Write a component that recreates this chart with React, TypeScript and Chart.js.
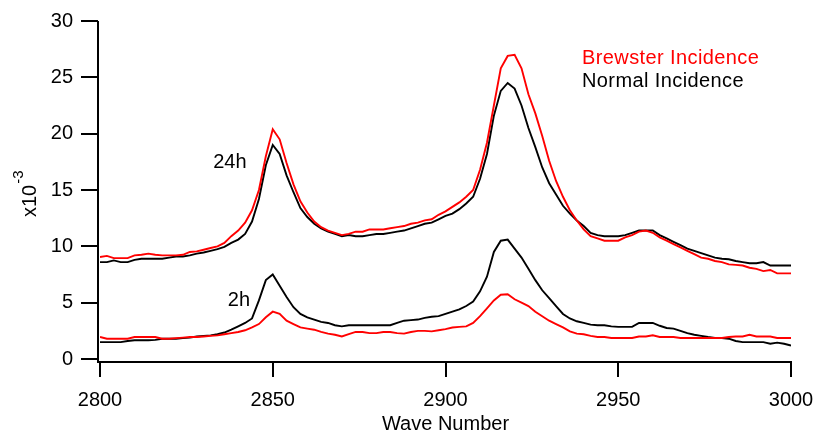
import { useEffect, useRef } from 'react';
import { Chart, registerables } from 'chart.js';

Chart.register(...registerables);

const wavenumbers = [
  2800, 2802, 2804, 2806, 2808, 2810, 2812, 2814, 2816, 2818,
  2820, 2822, 2824, 2826, 2828, 2830, 2832, 2834, 2836, 2838,
  2840, 2842, 2844, 2846, 2848, 2850, 2852, 2854, 2856, 2858,
  2860, 2862, 2864, 2866, 2868, 2870, 2872, 2874, 2876, 2878,
  2880, 2882, 2884, 2886, 2888, 2890, 2892, 2894, 2896, 2898,
  2900, 2902, 2904, 2906, 2908, 2910, 2912, 2914, 2916, 2918,
  2920, 2922, 2924, 2926, 2928, 2930, 2932, 2934, 2936, 2938,
  2940, 2942, 2944, 2946, 2948, 2950, 2952, 2954, 2956, 2958,
  2960, 2962, 2964, 2966, 2968, 2970, 2972, 2974, 2976, 2978,
  2980, 2982, 2984, 2986, 2988, 2990, 2992, 2994, 2996, 2998,
  3000,
];

const brewster24h = [
  9.05, 9.15, 8.95, 8.95, 8.95, 9.2, 9.25, 9.35, 9.25, 9.2,
  9.2, 9.2, 9.25, 9.5, 9.55, 9.7, 9.85, 10.0, 10.3, 10.9,
  11.4, 12.1, 13.2, 15.0, 18.0, 20.4, 19.5, 17.4, 15.5, 14.0,
  13.0, 12.2, 11.7, 11.4, 11.2, 11.0, 11.1, 11.3, 11.3, 11.5,
  11.5, 11.5, 11.6, 11.7, 11.8, 12.0, 12.1, 12.3, 12.4, 12.8,
  13.1, 13.5, 13.9, 14.4, 15.0, 16.8, 19.2, 22.5, 25.8, 26.9,
  27.0, 25.8, 23.5, 21.8, 19.8, 17.6, 15.8, 14.4, 13.2, 12.3,
  11.5, 10.9, 10.7, 10.5, 10.5, 10.5, 10.8, 11.0, 11.3, 11.4,
  11.2, 10.8, 10.5, 10.2, 9.9, 9.6, 9.3, 9.0, 8.9, 8.7,
  8.6, 8.4, 8.35, 8.3, 8.1, 8.0, 7.8, 7.9, 7.6, 7.6,
  7.6,
];

const normal24h = [
  8.6, 8.6, 8.75, 8.6, 8.6, 8.8, 8.9, 8.9, 8.9, 8.9,
  9.0, 9.1, 9.1, 9.2, 9.35, 9.45, 9.6, 9.75, 9.95, 10.3,
  10.6, 11.1, 12.2, 14.2, 17.2, 19.0, 18.2, 16.3, 14.8, 13.4,
  12.6, 12.0, 11.6, 11.3, 11.1, 10.9, 11.0, 10.9, 10.9, 11.0,
  11.1, 11.1, 11.2, 11.3, 11.4, 11.6, 11.8, 12.0, 12.1, 12.4,
  12.7, 12.9, 13.3, 13.8, 14.4, 16.0, 18.2, 21.6, 23.8, 24.5,
  24.0, 22.5, 20.5, 18.8, 17.0, 15.6, 14.6, 13.6, 12.9, 12.3,
  11.8, 11.2, 11.0, 10.9, 10.9, 10.9, 11.0, 11.2, 11.4, 11.4,
  11.4, 11.0, 10.7, 10.4, 10.1, 9.8, 9.6, 9.4, 9.2, 9.0,
  8.9, 8.85, 8.7, 8.6, 8.5, 8.5, 8.6, 8.3, 8.3, 8.3,
  8.3,
];

const brewster2h = [
  1.95, 1.8, 1.8, 1.8, 1.8, 1.95, 1.95, 1.95, 1.95, 1.8,
  1.8, 1.85, 1.9, 1.95, 1.95, 2.0, 2.05, 2.1, 2.2, 2.3,
  2.4, 2.55, 2.8, 3.1, 3.7, 4.2, 4.0, 3.4, 3.1, 2.8,
  2.7, 2.6, 2.4, 2.25, 2.15, 2.0, 2.2, 2.4, 2.4, 2.3,
  2.3, 2.4, 2.4, 2.3, 2.25, 2.4, 2.5, 2.5, 2.45, 2.55,
  2.65, 2.8, 2.85, 2.9, 3.2, 3.8, 4.5, 5.2, 5.7, 5.75,
  5.3, 5.0, 4.7, 4.2, 3.8, 3.4, 3.1, 2.8, 2.45, 2.25,
  2.2, 2.05, 1.95, 1.95, 1.87, 1.87, 1.87, 1.87, 2.0, 2.0,
  2.1, 1.95, 1.95, 1.95, 1.87, 1.87, 1.87, 1.87, 1.87, 1.87,
  1.87, 1.95, 2.0, 2.0, 2.15, 2.0, 2.0, 2.0, 1.87, 1.87,
  1.87,
];

const normal2h = [
  1.5, 1.5, 1.5, 1.5, 1.6, 1.66, 1.66, 1.66, 1.7, 1.8,
  1.8, 1.8, 1.85, 1.9, 2.0, 2.05, 2.1, 2.2, 2.35, 2.6,
  2.9, 3.2, 3.6, 5.2, 7.0, 7.5, 6.5, 5.5, 4.6, 4.0,
  3.7, 3.5, 3.3, 3.2, 3.0, 2.9, 3.0, 3.0, 3.0, 3.0,
  3.0, 3.0, 3.0, 3.2, 3.4, 3.45, 3.5, 3.65, 3.75, 3.8,
  4.0, 4.2, 4.4, 4.7, 5.1, 6.0, 7.3, 9.5, 10.5, 10.6,
  9.8, 9.0, 8.0, 7.0, 6.1, 5.4, 4.7, 4.0, 3.6, 3.35,
  3.2, 3.05, 3.0, 3.0, 2.9, 2.85, 2.85, 2.85, 3.2, 3.2,
  3.2, 2.95, 2.75, 2.7, 2.5, 2.3, 2.15, 2.05, 1.95, 1.87,
  1.87, 1.8, 1.6, 1.5, 1.5, 1.5, 1.5, 1.35, 1.45, 1.35,
  1.2,
];

const xTicks = [2800, 2850, 2900, 2950, 3000];
const yTicks = [0, 5, 10, 15, 20, 25, 30];

const seriesLabels = ['Brewster Incidence', 'Normal Incidence'];
const seriesColors = ['#ff0000', '#000000'];

const annotationTexts = ['24h', '2h'];
const annotationX = [2837.6, 2840.2];
const annotationY = [17.4, 5.2];

const FONT = '"Liberation Sans", Arial, Helvetica, sans-serif';

const toPoints = (ys: number[]) => ys.map((v, i) => ({ x: wavenumbers[i], y: v }));

const decorPlugin = {
  id: 'decor',
  afterDraw(chart: any) {
    const { ctx, chartArea, scales } = chart;
    const xs = scales.x;
    const ys = scales.y;
    ctx.save();
    ctx.strokeStyle = '#000';
    ctx.lineWidth = 2;
    const axX = chartArea.left - 2;
    const axY = chartArea.bottom + 3;
    ctx.beginPath();
    ctx.moveTo(axX, ys.getPixelForValue(yTicks[yTicks.length - 1]));
    ctx.lineTo(axX, axY + 1);
    ctx.moveTo(axX - 1, axY);
    ctx.lineTo(xs.getPixelForValue(xTicks[xTicks.length - 1]) + 1, axY);
    yTicks.forEach((t) => {
      const py = Math.round(ys.getPixelForValue(t));
      ctx.moveTo(axX - 17, py);
      ctx.lineTo(axX, py);
    });
    xTicks.forEach((t) => {
      const px = Math.round(xs.getPixelForValue(t));
      ctx.moveTo(px, axY);
      ctx.lineTo(px, axY + 15);
    });
    ctx.stroke();

    // Y axis title with superscript
    ctx.fillStyle = '#000';
    ctx.save();
    ctx.translate(36, 217);
    ctx.rotate(-Math.PI / 2);
    ctx.font = `20px ${FONT}`;
    ctx.textAlign = 'left';
    ctx.textBaseline = 'alphabetic';
    ctx.fillText('x10', 0, 0);
    const w = ctx.measureText('x10').width;
    ctx.font = `15px ${FONT}`;
    ctx.fillText('-3', w + 1, -13);
    ctx.restore();

    // Annotations
    ctx.font = `20px ${FONT}`;
    ctx.textAlign = 'center';
    ctx.textBaseline = 'middle';
    annotationTexts.forEach((t, i) => {
      ctx.fillText(t, xs.getPixelForValue(annotationX[i]), ys.getPixelForValue(annotationY[i]));
    });

    // Legend
    ctx.textAlign = 'left';
    try { (ctx as any).letterSpacing = '0.4px'; } catch (e) { /* ignore */ }
    seriesLabels.forEach((t, i) => {
      ctx.fillStyle = seriesColors[i];
      ctx.fillText(t, 582, 58 + i * 23);
    });
    try { (ctx as any).letterSpacing = '0px'; } catch (e) { /* ignore */ }
    ctx.restore();
  },
};

export default function App() {
  const ref = useRef<HTMLCanvasElement | null>(null);

  useEffect(() => {
    if (!ref.current) return;
    const lineStyle = { pointRadius: 0, borderWidth: 1.9, tension: 0, fill: false };
    const chart = new Chart(ref.current, {
      type: 'line',
      data: {
        datasets: [
          { label: '24h ' + seriesLabels[0], data: toPoints(brewster24h), borderColor: seriesColors[0], ...lineStyle },
          { label: '24h ' + seriesLabels[1], data: toPoints(normal24h), borderColor: seriesColors[1], ...lineStyle },
          { label: '2h ' + seriesLabels[0], data: toPoints(brewster2h), borderColor: seriesColors[0], ...lineStyle },
          { label: '2h ' + seriesLabels[1], data: toPoints(normal2h), borderColor: seriesColors[1], ...lineStyle },
        ],
      },
      options: {
        animation: false,
        responsive: false,
        maintainAspectRatio: false,
        layout: { padding: { top: 21, right: 25, left: 0, bottom: 0 } },
        plugins: {
          legend: { display: false },
          tooltip: { enabled: false },
        },
        scales: {
          x: {
            type: 'linear',
            min: 2800,
            max: 3000,
            afterFit: (s: any) => {
              s.height = 76;
              s.paddingLeft = 0;
              s.paddingRight = 0;
              s.paddingTop = 0;
              s.paddingBottom = 0;
            },
            afterBuildTicks: (s: any) => { s.ticks = xTicks.map((v) => ({ value: v })); },
            ticks: {
              color: '#000',
              font: { family: FONT, size: 20 },
              padding: 29,
              maxRotation: 0,
              autoSkip: false,
              callback: (v: any) => String(v),
            },
            grid: { display: false, drawTicks: false },
            border: { display: false },
            title: {
              display: true,
              text: 'Wave Number',
              color: '#000',
              font: { family: FONT, size: 20, lineHeight: 1.1 },
              padding: { top: 0, bottom: 0 },
            },
          },
          y: {
            type: 'linear',
            min: 0,
            max: 30,
            afterFit: (s: any) => {
              s.width = 100;
              s.paddingLeft = 0;
              s.paddingRight = 0;
              s.paddingTop = 0;
              s.paddingBottom = 0;
            },
            afterBuildTicks: (s: any) => { s.ticks = yTicks.map((v) => ({ value: v })); },
            ticks: {
              color: '#000',
              font: { family: FONT, size: 20 },
              padding: 27,
              autoSkip: false,
              callback: (v: any) => String(v),
            },
            grid: { display: false, drawTicks: false },
            border: { display: false },
          },
        },
      },
      plugins: [decorPlugin],
    });
    return () => chart.destroy();
  }, []);

  return (
    <div style={{ position: 'fixed', left: 0, top: 0, width: 816, height: 435, background: '#fff' }}>
      <canvas ref={ref} width={816} height={435} style={{ display: 'block', width: 816, height: 435 }} />
    </div>
  );
}
